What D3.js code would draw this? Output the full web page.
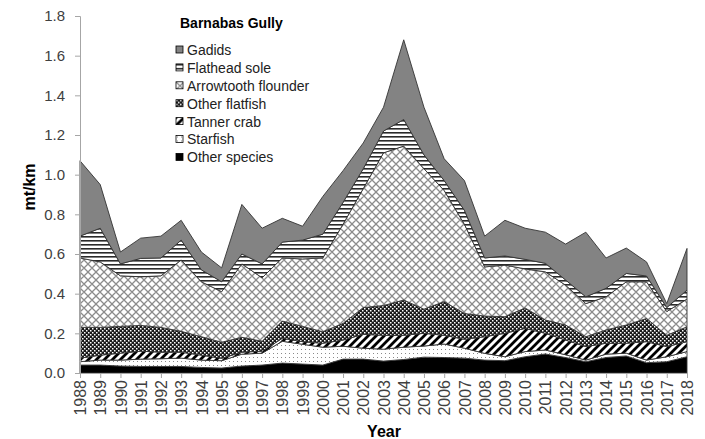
<!DOCTYPE html>
<html>
<head>
<meta charset="utf-8">
<script src="https://cdn.jsdelivr.net/npm/d3@7/dist/d3.min.js"></script>
<style>
  body { margin: 0; background: #fff; }
  svg { display: block; font-family: "Liberation Sans", Arial, sans-serif; }
</style>
</head>
<body>
<div id="chart"></div>
<script>
// values (mt/km)
const years = [1988, 1989, 1990, 1991, 1992, 1993, 1994, 1995, 1996, 1997, 1998,
  1999, 2000, 2001, 2002, 2003, 2004, 2005, 2006, 2007, 2008, 2009, 2010,
  2011, 2012, 2013, 2014, 2015, 2016, 2017, 2018]
const otherSpecies = [0.040, 0.040, 0.035, 0.033, 0.033, 0.033, 0.028, 0.025, 0.035, 0.040, 0.050,
  0.045, 0.040, 0.070, 0.070, 0.060, 0.068, 0.080, 0.078, 0.075, 0.065, 0.062, 0.082,
  0.096, 0.078, 0.057, 0.078, 0.086, 0.052, 0.057, 0.082]
const starfish = [0.017, 0.025, 0.030, 0.037, 0.039, 0.042, 0.037, 0.037, 0.060, 0.060, 0.110,
  0.100, 0.090, 0.065, 0.055, 0.060, 0.062, 0.056, 0.068, 0.050, 0.034, 0.020, 0.026,
  0.020, 0.014, 0.008, 0.017, 0.014, 0.013, 0.025, 0.026]
const tannerCrab = [0.018, 0.025, 0.035, 0.040, 0.033, 0.030, 0.025, 0.012, 0.010, 0.010, 0.015,
  0.013, 0.020, 0.031, 0.070, 0.070, 0.060, 0.064, 0.044, 0.045, 0.084, 0.118, 0.117,
  0.084, 0.074, 0.068, 0.055, 0.050, 0.093, 0.051, 0.050]
const otherFlatfish = [0.155, 0.140, 0.135, 0.130, 0.125, 0.105, 0.093, 0.081, 0.075, 0.050, 0.087,
  0.077, 0.058, 0.084, 0.135, 0.150, 0.178, 0.122, 0.170, 0.130, 0.104, 0.084, 0.103,
  0.067, 0.076, 0.050, 0.067, 0.092, 0.117, 0.057, 0.075]
const arrowtooth = [0.350, 0.330, 0.255, 0.245, 0.260, 0.360, 0.277, 0.255, 0.370, 0.320, 0.318,
  0.340, 0.372, 0.500, 0.600, 0.770, 0.776, 0.708, 0.560, 0.450, 0.248, 0.260, 0.197,
  0.243, 0.201, 0.167, 0.167, 0.218, 0.185, 0.120, 0.140]
const flatheadSole = [0.110, 0.170, 0.060, 0.093, 0.090, 0.100, 0.060, 0.050, 0.050, 0.070, 0.080,
  0.095, 0.120, 0.110, 0.100, 0.110, 0.134, 0.070, 0.050, 0.070, 0.045, 0.046, 0.048,
  0.043, 0.026, 0.034, 0.043, 0.042, 0.029, 0.020, 0.045]
const gadids = [0.380, 0.220, 0.060, 0.102, 0.110, 0.100, 0.090, 0.070, 0.250, 0.180, 0.120,
  0.070, 0.190, 0.160, 0.130, 0.120, 0.402, 0.240, 0.110, 0.150, 0.110, 0.180, 0.157,
  0.157, 0.181, 0.326, 0.153, 0.128, 0.071, 0.020, 0.210]

// stacking order, bottom to top
const keys = ['Other species', 'Starfish', 'Tanner crab', 'Other flatfish',
  'Arrowtooth flounder', 'Flathead sole', 'Gadids']
const seriesValues = [otherSpecies, starfish, tannerCrab, otherFlatfish,
  arrowtooth, flatheadSole, gadids]
const yTicks = [0, 0.2, 0.4, 0.6, 0.8, 1.0, 1.2, 1.4, 1.6, 1.8]

const width = 705
const height = 439
const margin = { top: 16, right: 18, bottom: 66, left: 80 }

const table = years.map((yr, i) => {
  const row = { year: yr }
  keys.forEach((k, j) => { row[k] = seriesValues[j][i] })
  return row
})

const svg = d3.select('#chart').append('svg')
  .attr('width', width)
  .attr('height', height)

// fill patterns, one per species
const defs = svg.append('defs')
const fills = {}

fills['Gadids'] = '#838383'

let p = defs.append('pattern').attr('id', 'p-flathead')
  .attr('patternUnits', 'userSpaceOnUse').attr('width', 4).attr('height', 4)
p.append('rect').attr('width', 4).attr('height', 4).attr('fill', '#fff')
p.append('rect').attr('y', 0).attr('width', 4).attr('height', 1.6).attr('fill', '#2a2a2a')
fills['Flathead sole'] = 'url(#p-flathead)'

p = defs.append('pattern').attr('id', 'p-arrow')
  .attr('patternUnits', 'userSpaceOnUse').attr('width', 8).attr('height', 8)
p.append('rect').attr('width', 8).attr('height', 8).attr('fill', '#fff')
p.append('path').attr('d', 'M0,0L8,8M8,0L0,8M-4,4L4,12M4,-4L12,4M-4,4L4,-4M4,12L12,4')
  .attr('stroke', '#8c8c8c').attr('stroke-width', 1.3)
fills['Arrowtooth flounder'] = 'url(#p-arrow)'

p = defs.append('pattern').attr('id', 'p-otherflat')
  .attr('patternUnits', 'userSpaceOnUse').attr('width', 4).attr('height', 4)
p.append('rect').attr('width', 4).attr('height', 4).attr('fill', '#1a1a1a')
p.append('rect').attr('width', 1.5).attr('height', 1.5).attr('fill', '#fff')
p.append('rect').attr('x', 2).attr('y', 2).attr('width', 1.5).attr('height', 1.5).attr('fill', '#fff')
fills['Other flatfish'] = 'url(#p-otherflat)'

p = defs.append('pattern').attr('id', 'p-tanner')
  .attr('patternUnits', 'userSpaceOnUse').attr('width', 8).attr('height', 8)
p.append('rect').attr('width', 8).attr('height', 8).attr('fill', '#fff')
p.append('path').attr('d', 'M-2,10L10,-2M-6,6L6,-6M2,14L14,2')
  .attr('stroke', '#000').attr('stroke-width', 2.8)
fills['Tanner crab'] = 'url(#p-tanner)'

p = defs.append('pattern').attr('id', 'p-starfish')
  .attr('patternUnits', 'userSpaceOnUse').attr('width', 4).attr('height', 4)
p.append('rect').attr('width', 4).attr('height', 4).attr('fill', '#fff')
p.append('rect').attr('x', 1).attr('y', 1).attr('width', 1).attr('height', 1).attr('fill', '#8a8a8a')
fills['Starfish'] = 'url(#p-starfish)'

fills['Other species'] = '#000'

const x = d3.scaleLinear()
  .domain([years[0], years[years.length - 1]])
  .range([margin.left, width - margin.right])
const y = d3.scaleLinear()
  .domain([0, 1.8])
  .range([height - margin.bottom, margin.top])

const stacked = d3.stack().keys(keys)(table)

const area = d3.area()
  .x(d => x(d.data.year))
  .y0(d => y(d[0]))
  .y1(d => y(d[1]))

svg.append('g')
  .selectAll('path')
  .data(stacked)
  .join('path')
  .attr('d', area)
  .attr('fill', d => fills[d.key])
  .attr('stroke', '#333')
  .attr('stroke-width', 0.9)
  .attr('stroke-linejoin', 'round')

// y axis
const yAxis = svg.append('g')
  .attr('transform', `translate(${margin.left},0)`)
  .call(d3.axisLeft(y).tickValues(yTicks).tickFormat(d3.format('.1f'))
    .tickSize(5).tickPadding(10))
yAxis.select('.domain').attr('stroke', '#a6a6a6')
yAxis.selectAll('.tick line').attr('stroke', '#a6a6a6')
yAxis.selectAll('.tick text')
  .attr('font-size', 15).attr('fill', '#404040')
  .attr('font-family', '"Liberation Sans", Arial, sans-serif')

// x axis with vertical year labels
const xAxis = svg.append('g')
  .attr('transform', `translate(0,${height - margin.bottom})`)
  .call(d3.axisBottom(x).tickValues(years).tickFormat(d3.format('d')).tickSize(5))
xAxis.select('.domain').attr('stroke', '#a6a6a6')
xAxis.selectAll('.tick line').attr('stroke', '#a6a6a6')
xAxis.selectAll('.tick text')
  .attr('font-size', 16).attr('fill', '#404040')
  .attr('font-family', '"Liberation Sans", Arial, sans-serif')
  .attr('text-anchor', 'end')
  .attr('transform', 'rotate(-90)')
  .attr('x', -7)
  .attr('y', 0)
  .attr('dy', '0.35em')

// axis titles
svg.append('text')
  .attr('x', 384).attr('y', 437)
  .attr('text-anchor', 'middle')
  .attr('font-size', 16).attr('font-weight', 'bold')
  .text('Year')
svg.append('text')
  .attr('transform', 'translate(35,187) rotate(-90)')
  .attr('text-anchor', 'middle')
  .attr('font-size', 16).attr('font-weight', 'bold')
  .text('mt/km')

// title and legend
svg.append('text')
  .attr('x', 180).attr('y', 28)
  .attr('font-size', 14).attr('font-weight', 'bold')
  .text('Barnabas Gully')

const legendKeys = keys.slice().reverse()
const legend = svg.append('g')
  .selectAll('g')
  .data(legendKeys)
  .join('g')
  .attr('transform', (d, i) => `translate(176,${46 + i * 17.9})`)
legend.append('rect')
  .attr('width', 7).attr('height', 7)
  .attr('fill', d => fills[d])
  .attr('stroke', '#000').attr('stroke-width', 0.8)
legend.append('text')
  .attr('x', 11).attr('y', 4)
  .attr('dy', '0.35em')
  .attr('font-size', 14).attr('fill', '#222')
  .text(d => d)
</script>
</body>
</html>
